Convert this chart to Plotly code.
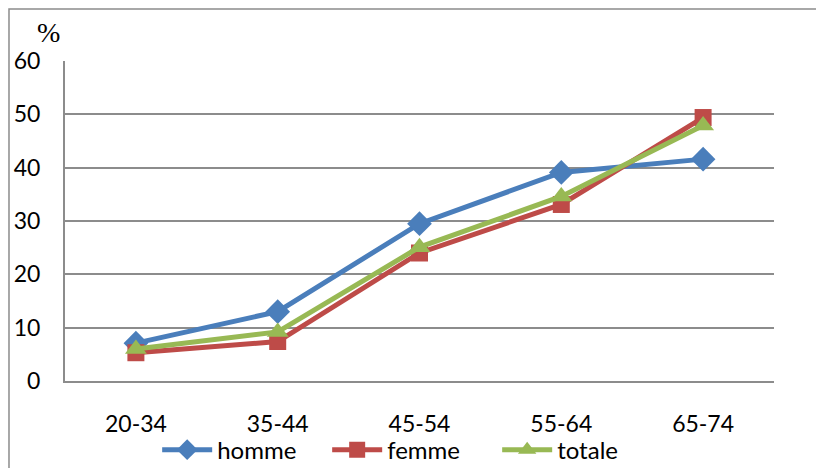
import plotly.graph_objects as go

categories = ["20-34", "35-44", "45-54", "55-64", "65-74"]
homme = [7.1, 13.0, 29.5, 39.1, 41.6]
femme = [5.3, 7.4, 24.0, 33.1, 49.4]
totale = [6.0, 9.2, 25.1, 34.6, 47.9]
y_ticks = [0, 10, 20, 30, 40, 50, 60]

fig = go.Figure()
series = [
    ("homme", homme, "#4A7EBB", "diamond", 19),
    ("femme", femme, "#BE4B48", "square", 17),
    ("totale", totale, "#98B954", "triangle-up", 19),
]
for name, vals, col, sym, sz in series:
    fig.add_trace(go.Scatter(
        x=categories, y=vals, name=name, mode="lines+markers",
        line=dict(color=col, width=5),
        marker=dict(symbol=sym, size=sz, color=col, line=dict(width=0)),
    ))

# page body has an 8px margin: compensate so the plot area sits at 65..774 x 61..381
fig.update_layout(
    width=816, height=460,
    margin=dict(l=57, r=50, t=53, b=87, autoexpand=False),
    paper_bgcolor="white", plot_bgcolor="white",
    font=dict(family="Lato, Liberation Sans, sans-serif", size=23, color="black"),
    showlegend=True,
    legend=dict(orientation="h", x=0.13, xanchor="left", y=-0.216, yanchor="middle",
                font=dict(size=24), itemwidth=50, entrywidth=105, entrywidthmode="pixels",
                tracegroupgap=0, bgcolor="rgba(0,0,0,0)"),
    xaxis=dict(type="category", showgrid=False, showline=True, linecolor="#8c8c8c",
               linewidth=2, ticks="", ticklabelstandoff=21, range=[-0.5, 4.5]),
    yaxis=dict(range=[0, 60], tickvals=y_ticks, showgrid=True, gridcolor="#8c8c8c",
               gridwidth=1.5, showline=True, linecolor="#8c8c8c", linewidth=2,
               ticks="", ticklabelstandoff=18, zeroline=False),
    annotations=[dict(text="%", x=-0.0226, y=1.09, xref="paper", yref="paper",
                      showarrow=False, xanchor="center", yanchor="middle",
                      font=dict(family="Liberation Serif, serif", size=28))],
    shapes=[dict(type="rect", xref="paper", yref="paper", x0=-0.079, x1=1.3,
                 y0=-0.6, y1=1.1625, line=dict(color="#8c8c8c", width=1.5),
                 fillcolor="rgba(0,0,0,0)", layer="below")],
)

fig.write_html("out.html")
